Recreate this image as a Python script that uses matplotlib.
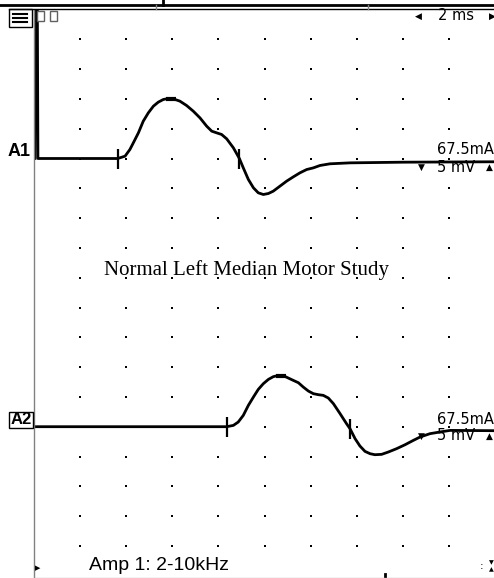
import numpy as np
import matplotlib
matplotlib.use("Agg")
import matplotlib.pyplot as plt
from matplotlib.lines import Line2D
from matplotlib.patches import Rectangle

# trace A1 (ms, mV relative to baseline)
a1_t = [0.04, 0.07, 0.14, 0.17, 3.63, 3.95, 4.16, 4.31, 4.53, 4.74, 4.96, 5.18,
        5.39, 5.61, 5.83, 6.04, 6.33, 6.62, 6.91, 7.20, 7.49, 7.71, 7.92, 8.14,
        8.36, 8.65, 8.91, 9.08, 9.30, 9.52, 9.73, 9.95, 10.17, 10.38, 10.67,
        10.96, 11.25, 11.54, 11.83, 12.12, 12.41, 12.84, 13.71, 16.0, 19.96]
a1_mv = [0, 30, 30, 0, 0, 0.39, 1.51, 2.63, 4.31, 6.26, 7.66, 8.78,
         9.45, 9.90, 10.07, 10.01, 9.62, 8.89, 7.94, 6.82, 5.43, 4.59, 4.31, 4.03,
         3.30, 1.79, 0, -1.57, -3.52, -4.92, -5.76, -6.04, -5.87, -5.48, -4.64,
         -3.80, -3.08, -2.40, -1.85, -1.57, -1.17, -0.89, -0.73, -0.62, -0.55]

# trace A2
a2_t = [0.0, 8.36, 8.65, 8.86, 9.08, 9.30, 9.52, 9.73, 9.95, 10.17, 10.38, 10.60,
        10.82, 11.03, 11.25, 11.47, 11.68, 11.90, 12.12, 12.34, 12.55, 12.77,
        12.99, 13.28, 13.56, 13.71, 13.93, 14.14, 14.36, 14.58, 14.79, 15.08,
        15.37, 15.73, 16.10, 16.46, 16.75, 17.18, 17.61, 18.05, 19.96]
a2_mv = [0, 0, 0.22, 0.78, 1.90, 3.58, 4.98, 6.26, 7.22, 7.94, 8.39, 8.61,
         8.56, 8.17, 7.77, 7.38, 6.66, 5.99, 5.54, 5.37, 5.26, 4.81,
         3.86, 2.18, 0.50, -0.34, -2.01, -3.24, -4.14, -4.53, -4.70, -4.64,
         -4.25, -3.69, -3.02, -2.29, -1.73, -1.17, -0.89, -0.62, -0.67]

a1_marks = [3.63, 8.91]
a1_peak = 5.93
a2_marks = [8.36, 13.71]
a2_peak = 10.71

stim_ma = "67.5mA"
gain = "5 mV"
sweep = "2 ms"
title = "Normal Left Median Motor Study"
filt = "Amp 1: 2-10kHz"

W, H = 494, 578
a1_base = -25
a2_base = -70


def fx(x):
    return x / W


def fy(y):
    return 1 - y / H


fig = plt.figure(figsize=(W / 100, H / 100), dpi=100)
fig.patch.set_facecolor("white")
ax = fig.add_axes([34 / W, 0, 460 / W, (H - 9.5) / H])
ax.set_xlim(0, 460 / 23.05)
ax.set_ylim(-(H - 9.5) / 29.8 * 5, 0)
ax.set_xticks([])
ax.set_yticks([])
for s in ["top", "right", "bottom"]:
    ax.spines[s].set_visible(False)
ax.spines["left"].set_color("#808080")
ax.spines["left"].set_linewidth(1)

# dot grid, 2 ms x 5 mV
gx, gy = np.meshgrid(np.arange(2, 19, 2), np.arange(-5, -91, -5))
ax.scatter(gx.ravel(), gy.ravel(), s=1.3, marker="s", color="black", linewidths=0)

for t, mv, base, marks, peak in [(a1_t, a1_mv, a1_base, a1_marks, a1_peak),
                                 (a2_t, a2_mv, a2_base, a2_marks, a2_peak)]:
    y = np.array(mv) + base
    ax.plot(t, y, color="black", lw=2.0, solid_joinstyle="round")
    ax.plot(marks, np.interp(marks, t, y), ls="none", marker="|",
            ms=15, mew=1.6, color="black")
    ax.plot([peak], np.interp([peak], t, y), ls="none", marker="_",
            ms=7, mew=3, color="black")

fig.text(fx(246.5), fy(270), title, ha="center", va="center", fontsize=15,
         family="Liberation Serif")

# right side labels
for yb in [159, 428]:
    fig.text(fx(437), fy(yb - 9), stim_ma, fontsize=10.5, family="DejaVu Sans",
             ha="left", va="center")
    fig.text(fx(437), fy(yb + 8), gain, fontsize=10.5, family="DejaVu Sans",
             ha="left", va="center")
    fig.text(fx(421), fy(yb + 8), "\u25bc", fontsize=6.5, ha="center", va="center")
    fig.text(fx(489), fy(yb + 8), "\u25b2", fontsize=6.5, ha="center", va="center")

fig.text(fx(8), fy(152), "A1", fontsize=13, fontweight="bold",
         family="Liberation Sans", ha="left", va="center")
fig.add_artist(Rectangle((fx(9), fy(428)), 24 / W, 16 / H, transform=fig.transFigure,
                         facecolor="white", edgecolor="black", lw=1))
fig.text(fx(21), fy(420), "A2", fontsize=12, fontweight="bold",
         family="Liberation Sans", ha="center", va="center")

# header strip
fig.add_artist(Line2D([0, 1], [fy(5), fy(5)], color="black", lw=2))
fig.add_artist(Line2D([fx(9), 1], [fy(9), fy(9)], color="black", lw=1))
fig.add_artist(Line2D([fx(163), fx(163)], [fy(0), fy(5)], color="black", lw=2))
for xt in [156, 368]:
    fig.add_artist(Line2D([fx(xt), fx(xt)], [fy(5), fy(9)], color="#808080", lw=1))
fig.add_artist(Rectangle((fx(9), fy(27)), 23 / W, 18 / H, transform=fig.transFigure,
                         facecolor="white", edgecolor="black", lw=1))
for yl in [14, 18, 22]:
    fig.add_artist(Line2D([fx(13), fx(27)], [fy(yl), fy(yl)], color="black", lw=1.5))
for xs in [37, 50]:
    fig.add_artist(Rectangle((fx(xs), fy(21)), 7 / W, 10 / H, transform=fig.transFigure,
                             facecolor="white", edgecolor="#606060", lw=1))
fig.text(fx(418), fy(16), "\u25c0", fontsize=6.5, ha="center", va="center")
fig.text(fx(492), fy(16), "\u25b6", fontsize=6.5, ha="center", va="center")
fig.text(fx(456), fy(16), sweep, fontsize=10.5, family="DejaVu Sans",
         ha="center", va="center")

# footer
fig.text(fx(89), fy(566), filt, fontsize=14, family="Liberation Sans",
         ha="left", va="center")
fig.text(fx(38), fy(568), "\u25b6", fontsize=5, ha="center", va="center")
fig.text(fx(482), fy(566), ":", fontsize=8, ha="center", va="center")
fig.text(fx(491), fy(563), "\u25bc", fontsize=4.5, ha="center", va="center")
fig.text(fx(491), fy(570), "\u25b2", fontsize=4.5, ha="center", va="center")
fig.add_artist(Line2D([fx(385), fx(385)], [fy(574), fy(578)], color="black", lw=2))
fig.add_artist(Line2D([fx(34), 1], [fy(577.5), fy(577.5)], color="#c0c0c0", lw=1))

fig.savefig("out.png", dpi=100)
